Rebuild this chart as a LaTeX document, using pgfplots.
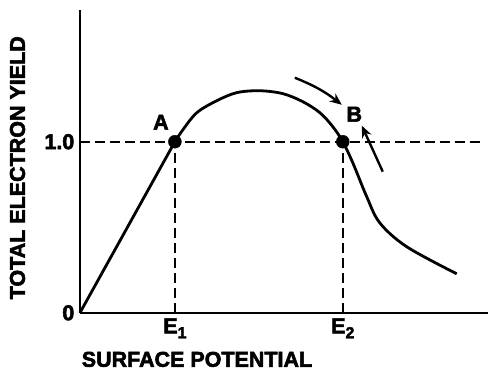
\documentclass[border=0pt]{standalone}
\usepackage{pgfplots}
\pgfplotsset{compat=1.18}
\usepackage{fontspec}
\setmainfont{Liberation Sans}[BoldFeatures={FakeBold=2.5}]
\usetikzlibrary{arrows.meta}
\newcommand{\bigbf}{\fontsize{21.5}{25}\selectfont\bfseries}
\newcommand{\sub}[1]{\raisebox{-5pt}{\fontsize{16}{16}\selectfont\bfseries #1}}
\begin{document}
\begin{tikzpicture}
\begin{axis}[
  scale only axis, width=408pt, height=303pt,
  xmin=0, xmax=408, ymin=0, ymax=1.77,
  axis lines=left,
  axis line style={line width=2.6pt, -},
  xtick={95,263}, xticklabels={E\sub{1},E\sub{2}},
  ytick={0,1}, yticklabels={0,1.0},
  tick style={draw=none},
  ticklabel style={font=\bigbf},
  xlabel={SURFACE POTENTIAL}, ylabel={TOTAL ELECTRON YIELD},
  label style={font=\bigbf},
  xlabel style={at={(axis description cs:0.287,0)}, anchor=base, yshift=-54pt},
  ylabel style={at={(axis description cs:-0.135,0.479)}, anchor=base, rotate=0},
  clip=false,
]
% dashed guide lines
\addplot[line width=1.8pt, dash pattern=on 10pt off 5pt] coordinates {(0,1) (400,1)};
\addplot[line width=1.8pt, dash pattern=on 10pt off 5pt] coordinates {(95,0) (95,1)};
\addplot[line width=1.8pt, dash pattern=on 10pt off 5pt] coordinates {(263,0) (263,1)};
% yield curve
\addplot[line width=2.8pt, black] coordinates {(0,0) (95,1)};
\addplot[line width=2.8pt, black, smooth, tension=0.55] coordinates {
  (95,1.0) (103,1.07) (117,1.17) (137,1.24) (157,1.287) (180,1.298)
  (203,1.281) (223,1.234) (240,1.17) (253,1.088) (263,1.0) (273,0.877)
  (287,0.678) (300,0.526) (327,0.386) (377,0.228)};
% points
\addplot[only marks, mark=*, mark size=6.5pt, black] coordinates {(95,1) (263,1)};
\node[font=\bigbf] at (axis cs:81,1.114) {A};
\node[font=\bigbf] at (axis cs:274.5,1.161) {B};
% arrows
\draw[line width=2.4pt, -{Stealth[length=12pt,width=10pt]}] (axis cs:215,1.374) to[bend left=8] (axis cs:262,1.216);
\draw[line width=2.4pt, -{Stealth[length=12pt,width=10pt]}] (axis cs:303,0.825) -- (axis cs:282,1.094);
\end{axis}
\path (current axis.north west) ++(0,10pt);
\path (current axis.south west) ++(-80pt,-59pt);
\path (current axis.south east) ++(1pt,0);
\end{tikzpicture}
\end{document}
